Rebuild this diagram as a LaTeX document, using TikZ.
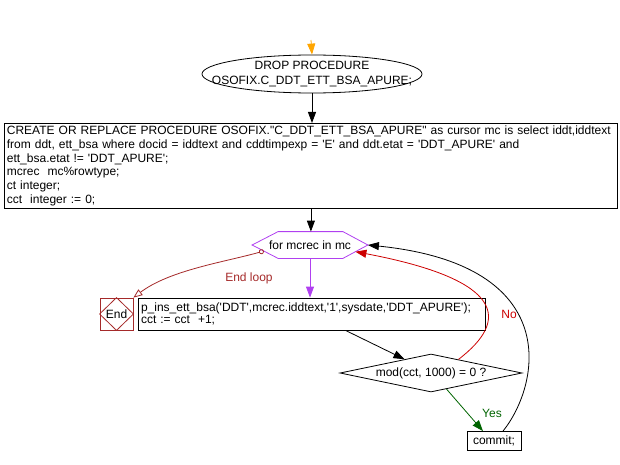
\documentclass[tikz,border=0pt]{standalone}
\usepackage{fontspec}
\setmainfont{Liberation Sans}[Ligatures=TeXOff]
\usetikzlibrary{shapes.geometric,arrows.meta,calc}
\definecolor{orange2}{HTML}{FFA500}
\definecolor{purple2}{HTML}{B040F0}
\definecolor{brown2}{HTML}{A52A2A}
\definecolor{red2}{HTML}{CC0000}
\definecolor{green2}{HTML}{006400}
\begin{document}
\begin{tikzpicture}[x=1pt,y=-1pt,
  font=\fontsize{12}{13.7}\selectfont,
  line width=0.8pt,
  every node/.style={inner sep=0pt},
  arr/.style={-{Triangle[length=11pt,width=8pt]}},
  box/.style={draw, rectangle, align=left}]
\useasboundingbox (0,0) rectangle (620,465);

% nodes
\coordinate (top) at (311,40);
\node[draw, ellipse, minimum width=220pt, minimum height=38pt,
  label={[align=center]center:{DROP PROCEDURE\\[1pt]OSOFIX.C\_DDT\_ETT\_BSA\_APURE;}}] (drop) at (312,74) {};

\node[box, anchor=north west, minimum width=613pt, minimum height=85pt,
  text width=608pt, inner xsep=2.5pt] (create) at (4,123)
  {CREATE OR REPLACE PROCEDURE OSOFIX."C\_DDT\_ETT\_BSA\_APURE" as cursor mc is select iddt,iddtext\\
   from ddt, ett\_bsa where docid = iddtext and cddtimpexp = 'E' and ddt.etat = 'DDT\_APURE' and\\
   ett\_bsa.etat != 'DDT\_APURE';\\
   mcrec\ \ mc\%rowtype;\\
   ct integer;\\
   cct\ \ integer := 0;};

\node[minimum width=115pt, minimum height=26pt] (loop) at (310,245) {for mcrec in mc};
\draw[purple2] (loop.west) -- ([xshift=26pt]loop.north west) -- ([xshift=-25pt]loop.north east)
  -- (loop.east) -- ([xshift=-25pt]loop.south east) -- ([xshift=26pt]loop.south west) -- cycle;

\node[box, minimum width=347pt, minimum height=32pt, text width=341pt, inner xsep=3pt] (proc) at (311.5,314)
  {p\_ins\_ett\_bsa('DDT',mcrec.iddtext,'1',sysdate,'DDT\_APURE');\\[-1pt]cct := cct\ \ +1;};

\node[draw=brown2, minimum width=33pt, minimum height=32pt] (end) at (116.5,314) {End};
\draw[brown2] (end.north) -- (end.east) -- (end.south) -- (end.west) -- cycle;

\node[draw, diamond, minimum width=182pt, minimum height=38pt,
  label=center:{mod(cct, 1000) = 0 ?}] (dia) at (431,373) {};

\node[box, minimum width=54pt, minimum height=19pt] (commit) at (494,441) {commit;};

% labels
\node[text=brown2] (endloop) at (249,278) {End loop};
\node[text=red2] (no) at (509,314) {No};
\node[text=green2] (yes) at (492,413) {Yes};

% connectors
\draw[arr, orange2] (top) -- (drop.north);
\draw[arr] (drop.south) -- (drop.south |- create.north);
\draw[arr] (create.south) -- (create.south |- loop.north);
\draw[arr, purple2] (loop.south) -- (loop.south |- proc.north);
\draw[arr] ([xshift=34pt]proc.south) -- ($(dia.west)!0.71!(dia.north)$);
\draw[arr, red2] ($(dia.north)!0.3!(dia.east)$) .. controls (510,320) and (505,280) ..
  ($(loop.east)!0.5!([xshift=-25pt]loop.south east)$);
\draw[arr, green2] ($(dia.south)!0.17!(dia.east)$) -- ([xshift=-11pt]commit.north);
\draw[arr] ([xshift=9pt]commit.north) .. controls (540,385) and (565,265) .. (loop.east);
\draw[brown2, {Circle[open,length=5pt]}-{Triangle[open,length=9pt,width=7pt]}]
  ($(loop.west)!0.45!([xshift=26pt]loop.south west)$) .. controls (225,262) and (170,270) .. (end.north east);
\end{tikzpicture}
\end{document}
